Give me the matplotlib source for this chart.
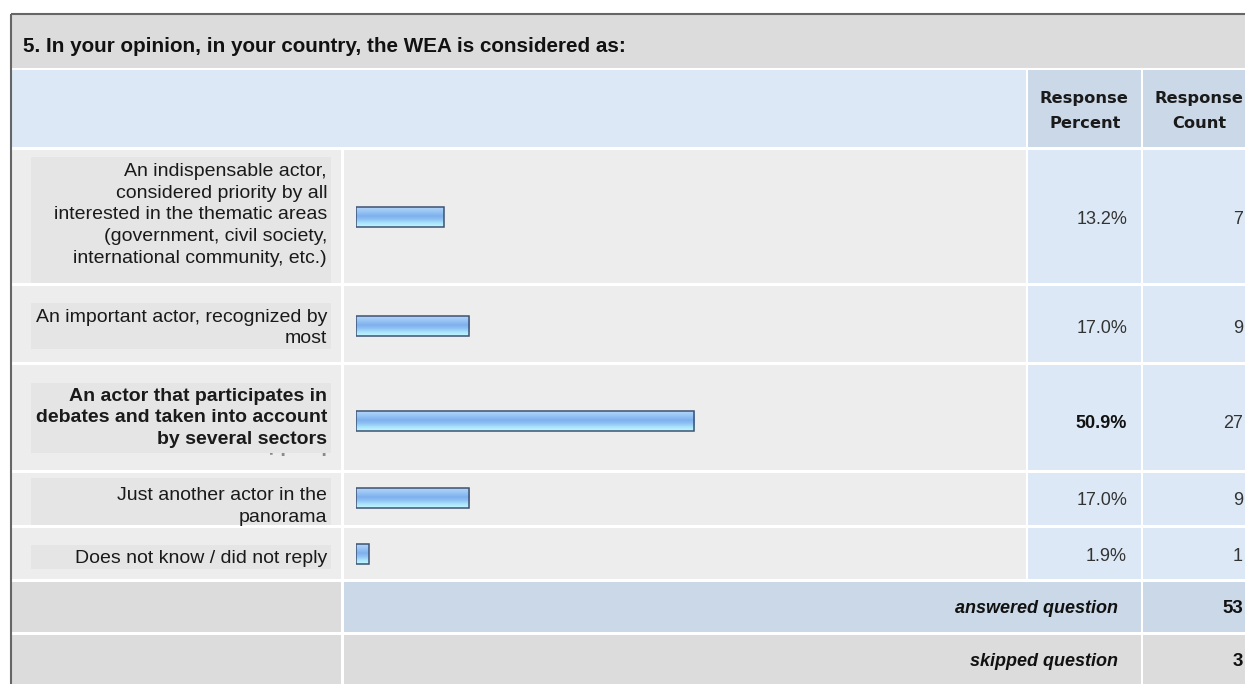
import matplotlib.pyplot as plt
import numpy as np
from matplotlib.patches import Rectangle
from matplotlib.colors import LinearSegmentedColormap

# Survey question 5 results
question = "5. In your opinion, in your country, the WEA is considered as:"
answer_lines = [
    ["An indispensable actor,", "considered priority by all",
     "interested in the thematic areas", "(government, civil society,",
     "international community, etc.)"],
    ["An important actor, recognized by", "most"],
    ["An actor that participates in", "debates and taken into account",
     "by several sectors"],
    ["Just another actor in the", "panorama"],
    ["Does not know / did not reply"],
]
percents = [13.2, 17.0, 50.9, 17.0, 1.9]
counts = [7, 9, 27, 9, 1]
answered = 53
skipped = 3
top_answer = int(np.argmax(percents))

# Table layout in pixels (y grows downwards)
W, H = 1245, 684
row_top = [150, 286, 365, 473, 528]
row_bot = [283, 362, 470, 525, 579]
box_top = [157, 303, 383, 478, 545]
box_bot = [283, 349, 453, 525, 569]
bar_y = [217, 326, 421, 498, 554]
label_base = [176, 321.7, 400.7, 500, 563]
line_step = 21.7

GRAY = '#dcdcdc'
HEAD_BLUE = '#dce8f5'
HEAD_CELL = '#cbd8e7'
ROW_BG = '#ededed'
LABEL_BOX = '#e5e5e5'

SANS = ['Liberation Sans', 'DejaVu Sans']

fig = plt.figure(figsize=(W / 100, H / 100), dpi=100)
fig.patch.set_facecolor('white')
ax = fig.add_axes([0, 0, 1, 1])
ax.set_xlim(0, W)
ax.set_ylim(H, 0)
ax.axis('off')


def cell(x0, y0, x1, y1, color):
    ax.add_patch(Rectangle((x0, y0), x1 - x0, y1 - y0,
                           facecolor=color, edgecolor='none', zorder=1))


# title band and column headers
cell(12, 15, W, 68, GRAY)
cell(12, 70, 1026, 147, HEAD_BLUE)
cell(1028, 70, 1141, 147, HEAD_CELL)
cell(1143, 70, W, 147, HEAD_CELL)

# answer rows
for i in range(len(percents)):
    t, b = row_top[i], row_bot[i]
    cell(12, t, 341, b, ROW_BG)
    cell(344, t, 1026, b, ROW_BG)
    cell(1028, t, 1141, b, HEAD_BLUE)
    cell(1143, t, W, b, HEAD_BLUE)
    cell(31, box_top[i], 331, box_bot[i], LABEL_BOX)

# totals rows
cell(12, 582, 341, 632, GRAY)
cell(344, 582, 1141, 632, HEAD_CELL)
cell(1143, 582, W, 632, HEAD_CELL)
cell(12, 635, 341, H, GRAY)
cell(344, 635, 1141, H, GRAY)
cell(1143, 635, W, H, GRAY)

# outer frame
ax.plot([11, 11], [14, H], color='#666666', lw=1.5, zorder=5, solid_capstyle='butt')
ax.plot([11, W], [14, 14], color='#666666', lw=1.5, zorder=5, solid_capstyle='butt')

ax.text(23, 51.7, question, family=SANS, fontsize=14.9, fontweight='bold',
        color='#111111', ha='left', va='baseline')

for x in (1084, 1199):
    ax.text(x, 103.3, "Response", family='DejaVu Sans', fontsize=11.7,
            fontweight='bold', color='#1a1a1a', ha='center', va='baseline')
ax.text(1085, 127.7, "Percent", family='DejaVu Sans', fontsize=11.7,
        fontweight='bold', color='#1a1a1a', ha='center', va='baseline')
ax.text(1199, 127.7, "Count", family='DejaVu Sans', fontsize=11.7,
        fontweight='bold', color='#1a1a1a', ha='center', va='baseline')

# answer labels, values and counts
for i, lines in enumerate(answer_lines):
    weight = 'bold' if i == top_answer else 'normal'
    for k, line in enumerate(lines):
        ax.text(327, label_base[i] + k * line_step, line, family=SANS,
                fontsize=14, fontweight=weight, color='#1a1a1a',
                ha='right', va='baseline', zorder=4)
    ax.text(1127, bar_y[i] + 6.8, f"{percents[i]:.1f}%", family=SANS,
            fontsize=13, fontweight=weight,
            color='#111111' if i == top_answer else '#333333',
            ha='right', va='baseline', zorder=4)
    ax.text(1243, bar_y[i] + 6.8, str(counts[i]), family=SANS,
            fontsize=13, color='#333333', ha='right', va='baseline', zorder=4)

# overflowing line of the bold label, cut off by its cell
ghost = ax.text(327, label_base[2] + 3 * line_step, "considered", family=SANS,
                fontsize=14, fontweight='bold', color='#8a8a8a',
                ha='right', va='baseline', zorder=4)
ghost.set_clip_path(Rectangle((200, 451), 140, 5, transform=ax.transData))
ghost.set_clip_on(True)

ax.text(1118, 613, "answered question", family=SANS, fontsize=13,
        fontweight='bold', style='italic', color='#111111', ha='right', va='baseline')
ax.text(1243, 613, str(answered), family=SANS, fontsize=13.5,
        fontweight='bold', color='#111111', ha='right', va='baseline')
ax.text(1118, 666, "skipped question", family=SANS, fontsize=13,
        fontweight='bold', style='italic', color='#111111', ha='right', va='baseline')
ax.text(1243, 666, str(skipped), family=SANS, fontsize=13.5,
        fontweight='bold', color='#111111', ha='right', va='baseline')

# percentage bars on their own 0-100 axis
bx = fig.add_axes([356 / W, 0, 665 / W, 1])
bx.patch.set_visible(False)
bx.axis('off')
shine = LinearSegmentedColormap.from_list(
    'shine', [(0.0, '#b3d5fa'), (0.2, '#9cc7f5'), (0.45, '#7eb0ee'),
              (0.6, '#8cbef2'), (0.8, '#a9e3fb'), (1.0, '#c2f8ff')])
grad = np.linspace(0, 1, 64).reshape(-1, 1)
bars = bx.barh(bar_y, percents, height=20, left=0, facecolor='none',
               edgecolor='#3d5273', linewidth=1.1, zorder=3)
for bar, p, y in zip(bars, percents, bar_y):
    im = bx.imshow(grad, cmap=shine, aspect='auto', origin='upper',
                   extent=(0, p, y + 10, y - 10), interpolation='bilinear', zorder=2)
    im.set_clip_path(bar)
bx.set_xlim(0, 100)
bx.set_ylim(H, 0)

fig.savefig('out.png', dpi=100, facecolor='white')
